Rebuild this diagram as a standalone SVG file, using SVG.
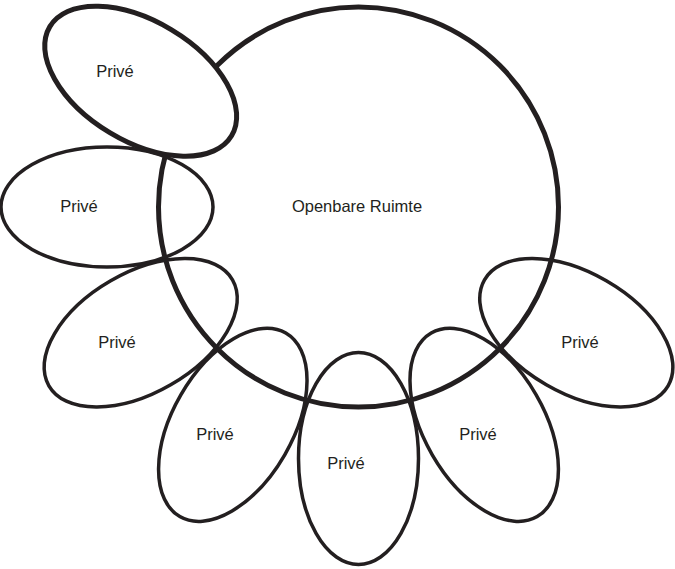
<svg xmlns="http://www.w3.org/2000/svg" width="675" height="569" viewBox="0 0 675 569">
<style>
.o{fill:none;stroke:#231f20;stroke-width:3.5}
.k{fill:none;stroke:#231f20;stroke-width:5}
.w{fill:#fff}
text{font-family:"Liberation Sans",Arial,sans-serif;font-size:16.5px;fill:#231f20;text-anchor:middle}
</style>
<rect width="675" height="569" fill="#fff"/>
<g id="open">
<circle class="k" cx="358.5" cy="207" r="200"/>
<text x="357" y="212">Openbare Ruimte</text>
</g>
<g id="p1">
<ellipse class="k w" cx="0" cy="0" rx="106" ry="60" transform="translate(140.7 81.2) rotate(31)"/>
<text x="115" y="77">Privé</text>
</g>
<g id="p2">
<ellipse class="o" cx="0" cy="0" rx="106" ry="60" transform="translate(107 207)"/>
<text x="79" y="212">Privé</text>
</g>
<g id="p3">
<ellipse class="o" cx="0" cy="0" rx="106" ry="60" transform="translate(140.7 332.8) rotate(-30)"/>
<text x="117" y="348">Privé</text>
</g>
<g id="p4">
<ellipse class="o" cx="0" cy="0" rx="106" ry="60" transform="translate(232.8 424.8) rotate(-60)"/>
<text x="215" y="440">Privé</text>
</g>
<g id="p5">
<ellipse class="o" cx="0" cy="0" rx="106" ry="60" transform="translate(358.5 458.5) rotate(90)"/>
<text x="346" y="469">Privé</text>
</g>
<g id="p6">
<ellipse class="o" cx="0" cy="0" rx="106" ry="60" transform="translate(484.2 424.8) rotate(60)"/>
<text x="478" y="440">Privé</text>
</g>
<g id="p7">
<ellipse class="o" cx="0" cy="0" rx="106" ry="60" transform="translate(576.3 332.8) rotate(30)"/>
<text x="580" y="348">Privé</text>
</g>
</svg>
